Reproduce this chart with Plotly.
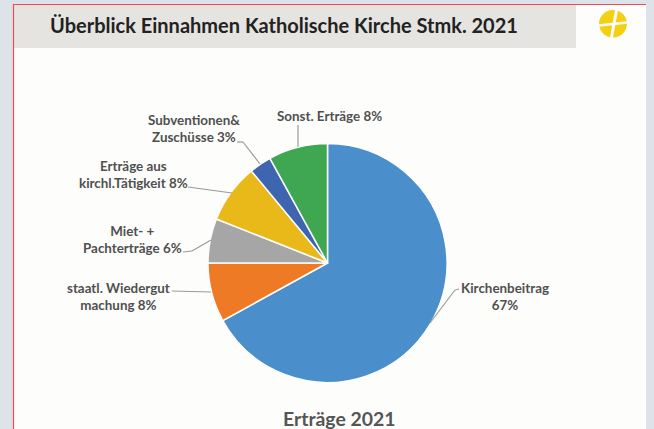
import plotly.graph_objects as go

categories = ["Kirchenbeitrag", "staatl. Wiedergutmachung", "Miet- + Pachterträge",
              "Erträge aus kirchl.Tätigkeit", "Subventionen& Zuschüsse", "Sonst. Erträge"]
values = [67, 8, 6, 8, 3, 8]
colors = ["#4a8fcb", "#ee7a26", "#a6a6a6", "#e9b91a", "#3e66b0", "#3fa652"]
title_text = "Überblick Einnahmen Katholische Kirche Stmk. 2021"
chart_title = "Erträge 2021"
labels = [
    ("Kirchenbeitrag<br>67%", 505, 296),
    ("staatl. Wiedergut<br>machung 8%", 118, 296.5),
    ("Miet- +<br>Pachterträge 6%", 132, 239),
    ("Erträge aus<br>kirchl.Tätigkeit 8%", 133, 174.5),
    ("Subventionen&<br>Zuschüsse 3%", 194, 128),
    ("Sonst. Erträge 8%", 329.5, 116.5),
]
leaders = [
    ((459, 289), (455, 290), (430, 323)),
    ((172, 291), (211, 292)),
    ((183, 252), (192, 251), (211, 240)),
    ((188, 187), (232, 193)),
    ((237, 142), (243, 142), (260, 164)),
    ((298, 125), (298, 147)),
]
W, H = 654, 429
CX, CY, R = 327.5, 263, 119.5

fig = go.Figure(go.Pie(
    labels=categories, values=values, sort=False, direction="clockwise", rotation=0,
    marker=dict(colors=colors, line=dict(color="#fdfdfb", width=1.5)),
    textinfo="none", hoverinfo="label+percent",
    domain=dict(x=[(CX - R) / W, (CX + R) / W], y=[1 - (CY + R) / H, 1 - (CY - R) / H]),
))


def px(x):
    return x / W


def py(y):
    return 1 - y / H


shapes = [
    dict(type="rect", x0=0, x1=1, y0=0, y1=1, fillcolor="#dde3e8", line_width=0, layer="below"),
    dict(type="rect", x0=px(13.5), x1=px(646), y0=0, y1=py(4.5), fillcolor="#fdfdfb", line_width=0, layer="below"),
    dict(type="rect", x0=px(14), x1=px(576), y0=py(48), y1=py(5), fillcolor="#e5e4e0", line_width=0, layer="below"),
    dict(type="line", x0=px(13.5), x1=px(13.5), y0=0, y1=py(4), line=dict(color="#ee4c55", width=1.2)),
    dict(type="line", x0=px(13), x1=px(646), y0=py(4.5), y1=py(4.5), line=dict(color="#ee4c55", width=1.2)),
    dict(type="circle", x0=px(599), x1=px(627), y0=py(37.5), y1=py(10), fillcolor="#f4cf12", line_width=0),
    dict(type="line", x0=px(599), x1=px(627), y0=py(25.5), y1=py(22.5), line=dict(color="#fdfdfb", width=2.5)),
    dict(type="line", x0=px(616.5), x1=px(611.5), y0=py(10), y1=py(37.5), line=dict(color="#fdfdfb", width=3)),
]
for pts in leaders:
    for a, b in zip(pts, pts[1:]):
        shapes.append(dict(type="line", x0=px(a[0]), x1=px(b[0]), y0=py(a[1]), y1=py(b[1]),
                           line=dict(color="#9a9a9a", width=1.2)))

FONT = "Lato, 'Open Sans', sans-serif"
annotations = [
    dict(text="<b>%s</b>" % title_text, x=px(284), y=py(25), showarrow=False,
         xanchor="center", yanchor="middle",
         font=dict(family=FONT, size=20, color="#222222")),
    dict(text="<b>%s</b>" % chart_title, x=px(339), y=py(418), showarrow=False,
         xanchor="center", yanchor="middle",
         font=dict(family=FONT, size=19.4, color="#555555")),
]
for text, x, y in labels:
    annotations.append(dict(text="<b>%s</b>" % text, x=px(x), y=py(y), showarrow=False, align="center",
                            xanchor="center", yanchor="middle",
                            font=dict(family=FONT, size=13.4, color="#505050")))

fig.update_layout(width=W, height=H, margin=dict(l=0, r=0, t=0, b=0), showlegend=False,
                  paper_bgcolor="#fdfdfb", shapes=shapes, annotations=annotations)
fig.write_html("out.html", config={"displayModeBar": False},
               post_script="document.body.style.margin='0';")
